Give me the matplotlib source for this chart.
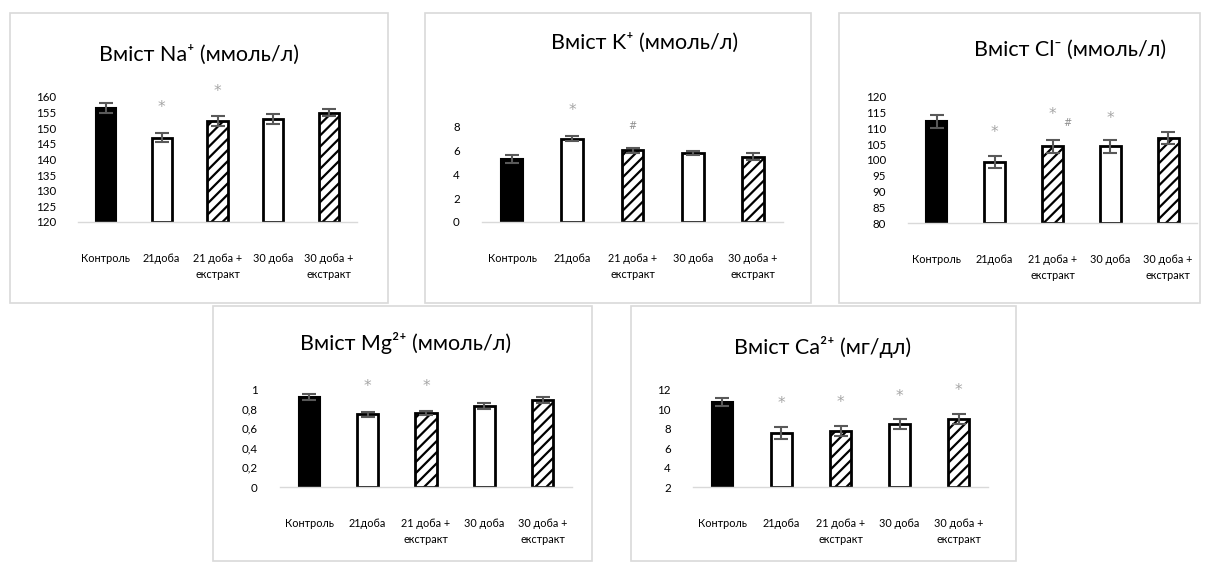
import numpy as np
import matplotlib
matplotlib.use("Agg")
import matplotlib.pyplot as plt
from matplotlib.patches import Rectangle

plt.rcParams['font.family'] = ['Lato', 'DejaVu Sans']
plt.rcParams['hatch.linewidth'] = 1.6

groups = ["Контроль", "21доба", "21 доба +\nекстракт", "30 доба", "30 доба +\nекстракт"]
fills = ["black", "white", "hatch", "white", "hatch"]

na_vals = [156.5, 147.0, 152.3, 153.0, 155.0]
na_err = [1.5, 1.5, 1.5, 1.5, 1.2]
k_vals = [5.3, 7.0, 6.05, 5.8, 5.5]
k_err = [0.3, 0.2, 0.2, 0.2, 0.3]
cl_vals = [112.3, 99.4, 104.3, 104.3, 107.0]
cl_err = [2.0, 2.0, 2.0, 2.0, 2.0]
mg_vals = [0.92, 0.74, 0.755, 0.83, 0.885]
mg_err = [0.03, 0.03, 0.025, 0.03, 0.03]
ca_vals = [10.8, 7.6, 7.75, 8.5, 9.0]
ca_err = [0.4, 0.6, 0.5, 0.5, 0.5]

# significance marks: (group index, y value, symbol)
na_marks = [(1, 156.5, "*"), (2, 161.6, "*")]
k_marks = [(1, 9.4, "*"), (2, 8.1, "#")]
cl_marks = [(1, 108.6, "*"), (2, 114.3, "*"), (2.25, 111.7, "#"), (3, 113.3, "*")]
mg_marks = [(1, 1.03, "*"), (2, 1.03, "*")]
ca_marks = [(1, 10.6, "*"), (2, 10.7, "*"), (3, 11.3, "*"), (4, 11.9, "*")]

W, H = 1212, 562
fig = plt.figure(figsize=(W / 100, H / 100), dpi=100)


def box(x0, y0, x1, y1):
    fig.add_artist(Rectangle((x0 / W, 1 - y1 / H), (x1 - x0) / W, (y1 - y0) / H,
                             transform=fig.transFigure, fill=False,
                             edgecolor="#d9d9d9", linewidth=1.2))


def axes_px(x0, y0, x1, y1):
    return fig.add_axes([x0 / W, 1 - y1 / H, (x1 - x0) / W, (y1 - y0) / H])


def panel(pbox, abox, vals, errs, marks, ylim, ticks, ticklabels, title, tx, ty):
    box(*pbox)
    ax = axes_px(*abox)
    x = np.arange(len(vals))
    for i in range(len(vals)):
        if fills[i] == "black":
            ax.bar(x[i], vals[i], 0.36, color="black", edgecolor="black", linewidth=1.5)
        elif fills[i] == "hatch":
            ax.bar(x[i], vals[i] - ylim[0], 0.36, bottom=ylim[0], color="white",
                   edgecolor="black", linewidth=2, hatch="///")
        else:
            ax.bar(x[i], vals[i] - ylim[0], 0.36, bottom=ylim[0], color="white",
                   edgecolor="black", linewidth=2)
    ax.errorbar(x, vals, yerr=errs, fmt="none", ecolor="#595959",
                elinewidth=1.5, capsize=5, capthick=1.5)
    for gi, yv, sym in marks:
        if sym == "*":
            ax.text(gi, yv, sym, ha="center", va="center", color="#a6a6a6",
                    fontsize=11, family="DejaVu Sans", clip_on=False)
        else:
            ax.text(gi, yv, sym, ha="center", va="center", color="#8c8c8c",
                    fontsize=7, family="DejaVu Sans", clip_on=False)
    ax.set_xlim(-0.5, len(vals) - 0.5)
    ax.set_ylim(*ylim)
    ax.set_yticks(ticks)
    ax.set_yticklabels(ticklabels, fontsize=8.3)
    ax.set_xticks(x)
    ax.set_xticklabels(groups, fontsize=7.8, linespacing=1.6)
    ax.tick_params(length=0, pad=22, axis="x")
    ax.tick_params(length=0, pad=16, axis="y")
    for s in ["top", "right", "left"]:
        ax.spines[s].set_visible(False)
    ax.spines["bottom"].set_color("#d9d9d9")
    ax.spines["bottom"].set_linewidth(1)
    fig.text(tx / W, 1 - ty / H, title, ha="center", va="center", fontsize=15.5)
    return ax


panel((10, 13, 388, 303), (78, 97, 357, 222), na_vals, na_err, na_marks,
      (120, 160), np.arange(120, 161, 5), [str(v) for v in range(120, 161, 5)],
      "Вміст Na⁺ (ммоль/л)", 199, 55)
panel((425, 13, 811, 303), (482, 127, 783, 222), k_vals, k_err, k_marks,
      (0, 8), np.arange(0, 9, 2), ["0", "2", "4", "6", "8"],
      "Вміст K⁺ (ммоль/л)", 645, 43)
panel((839, 13, 1200, 303), (908, 97, 1197, 223), cl_vals, cl_err, cl_marks,
      (80, 120), np.arange(80, 121, 5), [str(v) for v in range(80, 121, 5)],
      "Вміст Cl⁻ (ммоль/л)", 1070, 50)
panel((213, 306, 592, 561), (280, 389, 572, 487), mg_vals, mg_err, mg_marks,
      (0, 1), np.arange(0, 1.01, 0.2), ["0", "0,2", "0,4", "0,6", "0,8", "1"],
      "Вміст Mg²⁺ (ммоль/л)", 406, 343)
panel((631, 306, 1016, 561), (693, 390, 988, 487), ca_vals, ca_err, ca_marks,
      (2, 12), np.arange(2, 13, 2), ["2", "4", "6", "8", "10", "12"],
      "Вміст Ca²⁺ (мг/дл)", 823, 347)

fig.savefig("out.png", dpi=100)
